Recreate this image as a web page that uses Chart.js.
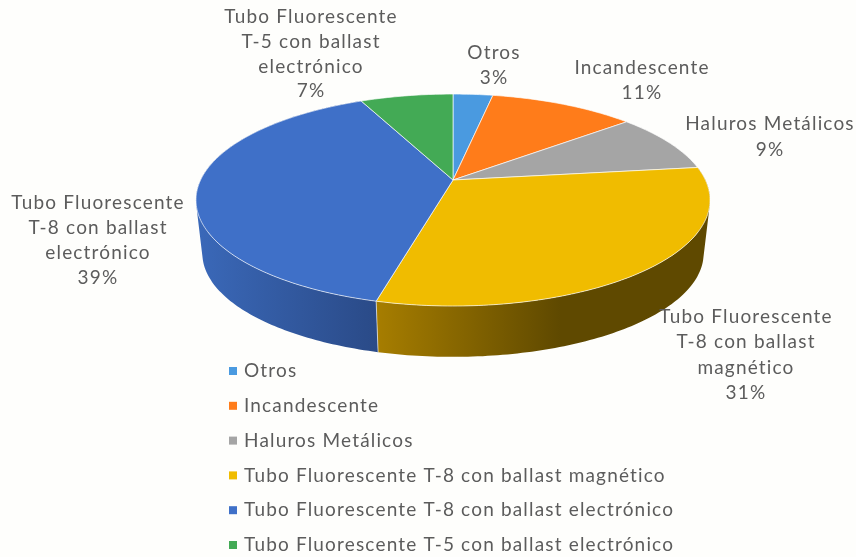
<!DOCTYPE html>
<html>
<head>
<meta charset="utf-8">
<style>
  html, body { margin: 0; background: #fefefc; }
  canvas { display: block; }
</style>
<script src="https://cdn.jsdelivr.net/npm/chart.js@4"></script>
</head>
<body>
<canvas id="lampChart" width="856" height="557"></canvas>
<script>
const categories = [
  "Otros",
  "Incandescente",
  "Haluros Metálicos",
  "Tubo Fluorescente T-8 con ballast magnético",
  "Tubo Fluorescente T-8 con ballast electrónico",
  "Tubo Fluorescente T-5 con ballast electrónico",
];
const shares = [3, 11, 9, 31, 39, 7];
const sliceColors = ["#4a9ae0", "#ff7c1a", "#a5a5a5", "#f0bc00", "#3f70c8", "#43aa55"];

// wrapped label text, one entry per category
const labelLines = [
  ["Otros"],
  ["Incandescente"],
  ["Haluros Metálicos"],
  ["Tubo Fluorescente", "T-8 con ballast", "magnético"],
  ["Tubo Fluorescente", "T-8 con ballast", "electrónico"],
  ["Tubo Fluorescente", "T-5 con ballast", "electrónico"],
];

// label placement: centre x, first line y, line step
const labelPlaces = [
  [494, 53, 25],
  [642, 68, 25],
  [770, 124, 26],
  [746, 317, 25.3],
  [98, 203, 25],
  [311, 17, 24.7],
];

const FONT = '19px Lato, sans-serif';
const TEXT_SPACING = "1.17px";
const TEXT_COLOR = "#5c5c5c";

// perspective of the tilted disc
const view = { x: 453, y: 180, a: 252.4, b: 102.2, k: 0.189, depth: 54, shrink: 0.975 };

function project(angle, lower) {
  const u = Math.cos(angle);
  const v = Math.sin(angle);
  const d = 1 - view.k * v;
  const s = lower ? view.shrink : 1;
  return {
    x: view.x + (s * view.a * u) / d,
    y: view.y + (lower ? view.depth : 0) + (s * view.b * v) / d,
  };
}

function traceRim(ctx, from, to) {
  const steps = Math.max(2, Math.ceil(Math.abs(to - from) * 60));
  for (let i = 0; i <= steps; i++) {
    const p = project(from + ((to - from) * i) / steps, false);
    ctx.lineTo(p.x, p.y);
  }
}

// sweep the rim down to the lower disc, so the wall's outer edge is the true hull
function traceWall(ctx, from, to) {
  const steps = Math.max(2, Math.ceil((to - from) * 60));
  for (let i = 0; i < steps; i++) {
    const t0 = from + ((to - from) * i) / steps;
    const t1 = from + ((to - from) * (i + 1)) / steps;
    const quad = [project(t0, false), project(t1, false), project(t1, true), project(t0, true)];
    // keep every quad wound the same way, or overlaps cancel out under nonzero fill
    let area = 0;
    quad.forEach((p, n) => {
      const q = quad[(n + 1) % 4];
      area += p.x * q.y - q.x * p.y;
    });
    if (area < 0) quad.reverse();
    ctx.moveTo(quad[0].x, quad[0].y);
    quad.slice(1).forEach((p) => ctx.lineTo(p.x, p.y));
    ctx.closePath();
  }
}

function sideFill(ctx, index) {
  // only the two front slices show a wall
  if (index === 3) {
    const g = ctx.createLinearGradient(378, 0, 560, 0);
    g.addColorStop(0, "#a67d00");
    g.addColorStop(1, "#5f4900");
    return g;
  }
  const g = ctx.createLinearGradient(200, 0, 378, 0);
  g.addColorStop(0, "#3a68b8");
  g.addColorStop(1, "#2a4a87");
  return g;
}

const tiltedPie = {
  id: "tiltedPie",
  beforeDatasetDraw(chart) {
    const ctx = chart.ctx;
    const arcs = chart.getDatasetMeta(0).data;
    const colors = chart.data.datasets[0].backgroundColor;

    ctx.save();
    ctx.lineJoin = "round";

    // walls first, the lid paints over whatever is behind
    arcs.forEach((arc, i) => {
      if (Math.sin((arc.startAngle + arc.endAngle) / 2) < 0) return;
      ctx.beginPath();
      traceWall(ctx, arc.startAngle, arc.endAngle);
      ctx.fillStyle = sideFill(ctx, i);
      ctx.fill();
    });
    arcs.forEach((arc, i) => {
      if (i !== 4) return;
      const join = project(arc.startAngle, false);
      const joinLow = project(arc.startAngle, true);
      ctx.beginPath();
      ctx.moveTo(join.x, join.y);
      ctx.lineTo(joinLow.x, joinLow.y);
      ctx.strokeStyle = "rgba(255,255,255,0.6)";
      ctx.lineWidth = 1;
      ctx.stroke();
    });

    arcs.forEach((arc, i) => {
      ctx.beginPath();
      ctx.moveTo(view.x, view.y);
      traceRim(ctx, arc.startAngle, arc.endAngle);
      ctx.closePath();
      ctx.fillStyle = colors[i];
      ctx.fill();
      ctx.strokeStyle = "rgba(255,255,255,0.65)";
      ctx.lineWidth = 1;
      ctx.stroke();
    });
    ctx.restore();
    return false;
  },
  afterDraw(chart) {
    const ctx = chart.ctx;
    const colors = chart.data.datasets[0].backgroundColor;
    ctx.save();
    ctx.font = FONT;
    ctx.letterSpacing = TEXT_SPACING;
    ctx.fillStyle = TEXT_COLOR;
    ctx.textBaseline = "middle";

    // slice labels
    ctx.textAlign = "center";
    labelLines.forEach((lines, i) => {
      const [x, y, step] = labelPlaces[i];
      lines.concat(shares[i] + "%").forEach((line, n) => {
        ctx.fillText(line, x, y + n * step);
      });
    });

    // legend
    ctx.textAlign = "left";
    chart.data.labels.forEach((name, i) => {
      const y = 371 + i * 34.8;
      ctx.fillStyle = colors[i];
      ctx.fillRect(229, y - 4, 8, 8);
      ctx.fillStyle = TEXT_COLOR;
      ctx.fillText(name, 244, y);
    });
    ctx.restore();
  },
};

new Chart(document.getElementById("lampChart").getContext("2d"), {
  type: "pie",
  data: {
    labels: categories,
    datasets: [{ data: shares, backgroundColor: sliceColors, borderWidth: 0 }],
  },
  options: {
    responsive: false,
    animation: false,
    plugins: { legend: { display: false }, tooltip: { enabled: false } },
  },
  plugins: [tiltedPie],
});
</script>
</body>
</html>
